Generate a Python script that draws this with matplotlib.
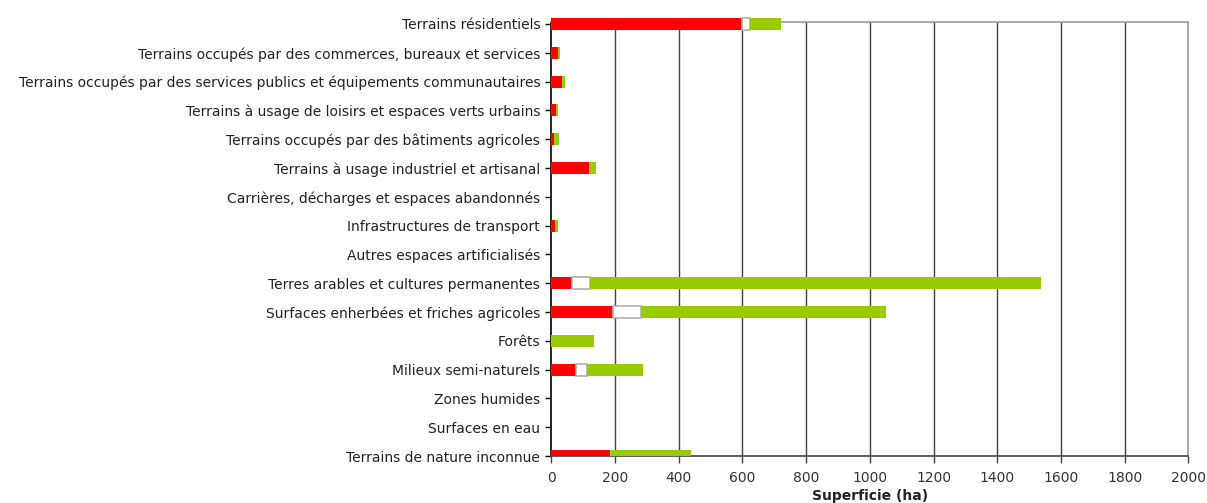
import numpy as np
import matplotlib
matplotlib.use('Agg')
import matplotlib.pyplot as plt

categories = [
    "Terrains résidentiels",
    "Terrains occupés par des commerces, bureaux et services",
    "Terrains occupés par des services publics et équipements communautaires",
    "Terrains à usage de loisirs et espaces verts urbains",
    "Terrains occupés par des bâtiments agricoles",
    "Terrains à usage industriel et artisanal",
    "Carrières, décharges et espaces abandonnés",
    "Infrastructures de transport",
    "Autres espaces artificialisés",
    "Terres arables et cultures permanentes",
    "Surfaces enherbées et friches agricoles",
    "Forêts",
    "Milieux semi-naturels",
    "Zones humides",
    "Surfaces en eau",
    "Terrains de nature inconnue",
]

# three stacked segments per category (ha)
red_vals = [597, 20, 33, 14, 8, 118, 0, 11, 0, 64, 195, 0, 76, 0, 0, 184]
white_vals = [28, 0, 0, 0, 0, 0, 0, 0, 0, 58, 86, 0, 35, 0, 0, 0]
green_vals = [95, 7, 9, 6, 16, 22, 0, 9, 0, 1415, 770, 134, 176, 0, 0, 254]

x_ticks = [0, 200, 400, 600, 800, 1000, 1200, 1400, 1600, 1800, 2000]

fig = plt.figure(figsize=(12.07, 5.03), dpi=100)
ax = fig.add_axes([0.4568, 0.0934, 0.5278, 0.8635])

y = np.arange(len(categories))
red = np.array(red_vals)
white = np.array(white_vals)
green = np.array(green_vals)
h = 0.42

bars_r = ax.barh(y, red, height=h, color='#FF0000', zorder=3)
bars_w = ax.barh(y, white, left=red, height=h, color='white',
                 edgecolor='#B0B0B0', linewidth=1.2, zorder=3)
bars_g = ax.barh(y, green, left=red + white, height=h, color='#99CC00', zorder=3)

# hide zero-width white boxes so their edges don't show
for b, v in zip(bars_w, white_vals):
    if v == 0:
        b.set_visible(False)

# top bar pokes above the plot frame
for bars in (bars_r, bars_w, bars_g):
    bars[0].set_clip_on(False)

ax.set_xlim(0, 2000)
ax.set_ylim(15, -0.08)
ax.set_xticks(x_ticks)
ax.set_yticks(y)
ax.set_yticklabels(categories)

for xv in x_ticks[1:-1]:
    ax.axvline(xv, color='#444444', linewidth=1.0, zorder=1)

for s in ('top', 'right'):
    ax.spines[s].set_color('#999999')
    ax.spines[s].set_linewidth(1.2)
ax.spines['left'].set_color('black')
ax.spines['left'].set_linewidth(1.2)
ax.spines['bottom'].set_color('#444444')
ax.spines['bottom'].set_linewidth(1.2)

ax.tick_params(axis='y', length=4, width=1, colors='black', labelcolor='#222222',
               labelsize=10, pad=4)
ax.tick_params(axis='x', length=5, width=1, colors='#444444', labelcolor='#333333',
               labelsize=10, pad=6)

ax.set_xlabel('Superficie (ha)', fontsize=10, fontweight='bold', color='#222222',
              labelpad=3)

fig.savefig('out.png', dpi=100)
